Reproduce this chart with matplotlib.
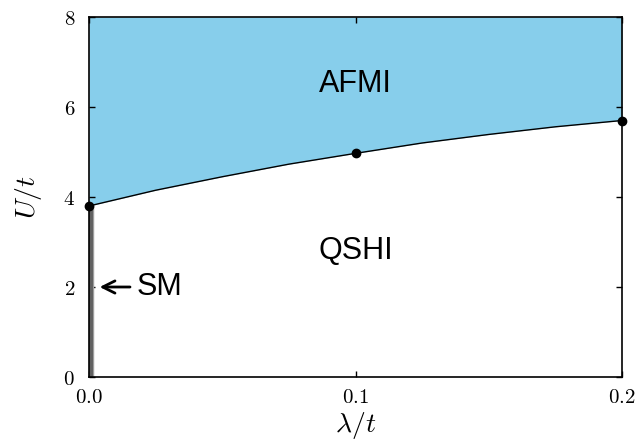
import matplotlib
matplotlib.use("Agg")
import matplotlib.pyplot as plt

plt.rcParams['mathtext.fontset'] = 'cm'

# phase boundary U_c/t vs lambda/t
lam_curve = [0.0, 0.025, 0.05, 0.075, 0.1, 0.125, 0.15, 0.175, 0.2]
U_curve = [3.8, 4.15, 4.45, 4.73, 4.97, 5.2, 5.39, 5.56, 5.7]

# computed points
lam_pts = [0.0, 0.1, 0.2]
U_pts = [3.8, 4.97, 5.7]

# semimetal line at lambda = 0
sm_U = [0.0, 3.8]

xticks = [0.0, 0.1, 0.2]
yticks = [0, 2, 4, 6, 8]

fig = plt.figure(figsize=(6.37, 4.45), dpi=100)
ax = fig.add_axes([0.1397, 0.1528, 0.8368, 0.809])

ax.fill_between(lam_curve, U_curve, 8, color='skyblue', lw=0)
ax.plot(lam_curve, U_curve, color='black', lw=1)
ax.plot([0, 0], sm_U, color='0.62', lw=7.5, solid_capstyle='butt')
ax.plot([0, 0], sm_U, color='0.38', lw=5, solid_capstyle='butt')
ax.plot(lam_pts, U_pts, 'o', color='black', ms=6, clip_on=False, zorder=5)

ax.text(0.1, 6.5, 'AFMI', fontsize=22, family='Liberation Sans',
        ha='center', va='center')
ax.text(0.1, 2.8, 'QSHI', fontsize=22, family='Liberation Sans',
        ha='center', va='center')
ax.annotate('SM', xy=(0.004, 2.0), xytext=(0.018, 2.0), fontsize=22,
            family='Liberation Sans', va='center', ha='left',
            arrowprops=dict(arrowstyle='->', lw=2, color='black',
                            shrinkA=3, shrinkB=0))

ax.set_xlim(0, 0.2)
ax.set_ylim(0, 8)
ax.set_xticks(xticks)
ax.set_yticks(yticks)
ax.set_xticklabels([r'$%.1f$' % v for v in xticks], fontsize=15)
ax.set_yticklabels([r'$%d$' % v for v in yticks], fontsize=15)
ax.tick_params(direction='in', length=4, width=1, top=True, right=True,
               pad=7)
ax.tick_params(axis='y', pad=10)
for s in ax.spines.values():
    s.set_linewidth(1.2)

ax.set_xlabel(r'$\lambda/t$', fontsize=20, labelpad=2)
ax.set_ylabel(r'$U/t$', fontsize=20, labelpad=14)

fig.savefig('out.png', dpi=100)
